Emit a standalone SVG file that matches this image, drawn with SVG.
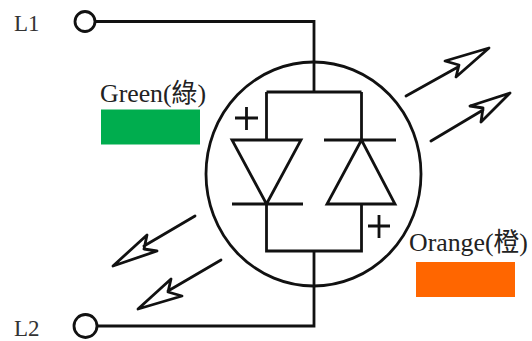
<svg xmlns="http://www.w3.org/2000/svg" width="532" height="341" viewBox="0 0 532 341">
<style>
.w{fill:none;stroke:#111;stroke-width:2.8;stroke-linejoin:miter}
.r{fill:none;stroke:#111;stroke-width:2.8;stroke-linejoin:round;stroke-linecap:round}
.t{font-family:"Liberation Serif","Noto Sans CJK TC",serif;font-size:25.800px;fill:#222}
.s{font-family:"Liberation Serif",serif;font-size:23px;fill:#333}
</style>
<rect width="532" height="341" fill="#fff"/>
<g id="connectors">
<path class="w" d="M96 21.500H314V92M266.500 92H361.500M266.500 92V140M361.500 92V140M266.500 204V251H361.500V204M314 251V326H97"/>
</g>
<g id="terminal-l1"><circle class="w" cx="85" cy="21.500" r="10"/><text class="s" x="14" y="30.500">L1</text></g>
<g id="terminal-l2"><circle class="w" cx="85.500" cy="326" r="11.500"/><text class="s" x="14" y="335.500">L2</text></g>
<g id="lamp"><ellipse cx="313.500" cy="174" rx="107.500" ry="112" fill="none" stroke="#111" stroke-width="2.800"/></g>
<g id="diode-green">
<path class="w" d="M232 140H301L266.500 204ZM232 204H303"/>
<path class="w" d="M235 118H258M246.500 107V130"/>
</g>
<g id="diode-orange">
<path class="w" d="M324 140H396M361.500 140L327 204H395ZM327 204H395"/>
<path class="w" d="M368 226H390M379 215V238"/>
</g>
<g id="light-out">
<path class="r" d="M406 96L458 67M489 48L445 61L459 65L456 77Z"/>
<path class="r" d="M431 141L483 110M510 93L470 106L483 108L481 122Z"/>
<path class="r" d="M195 216L144 246M113 266L147 235L144 249L157 251Z"/>
<path class="r" d="M221 260L168 291M138 309L171 279L168 292L182 296Z"/>
</g>
<g id="legend-green"><text class="t" x="100" y="101.500">Green(綠)</text><rect x="101" y="109.500" width="99" height="35" fill="#00ad4e"/></g>
<g id="legend-orange"><text class="t" x="409" y="251">Orange(橙)</text><rect x="416" y="262" width="99" height="35" fill="#ff6600"/></g>
</svg>
